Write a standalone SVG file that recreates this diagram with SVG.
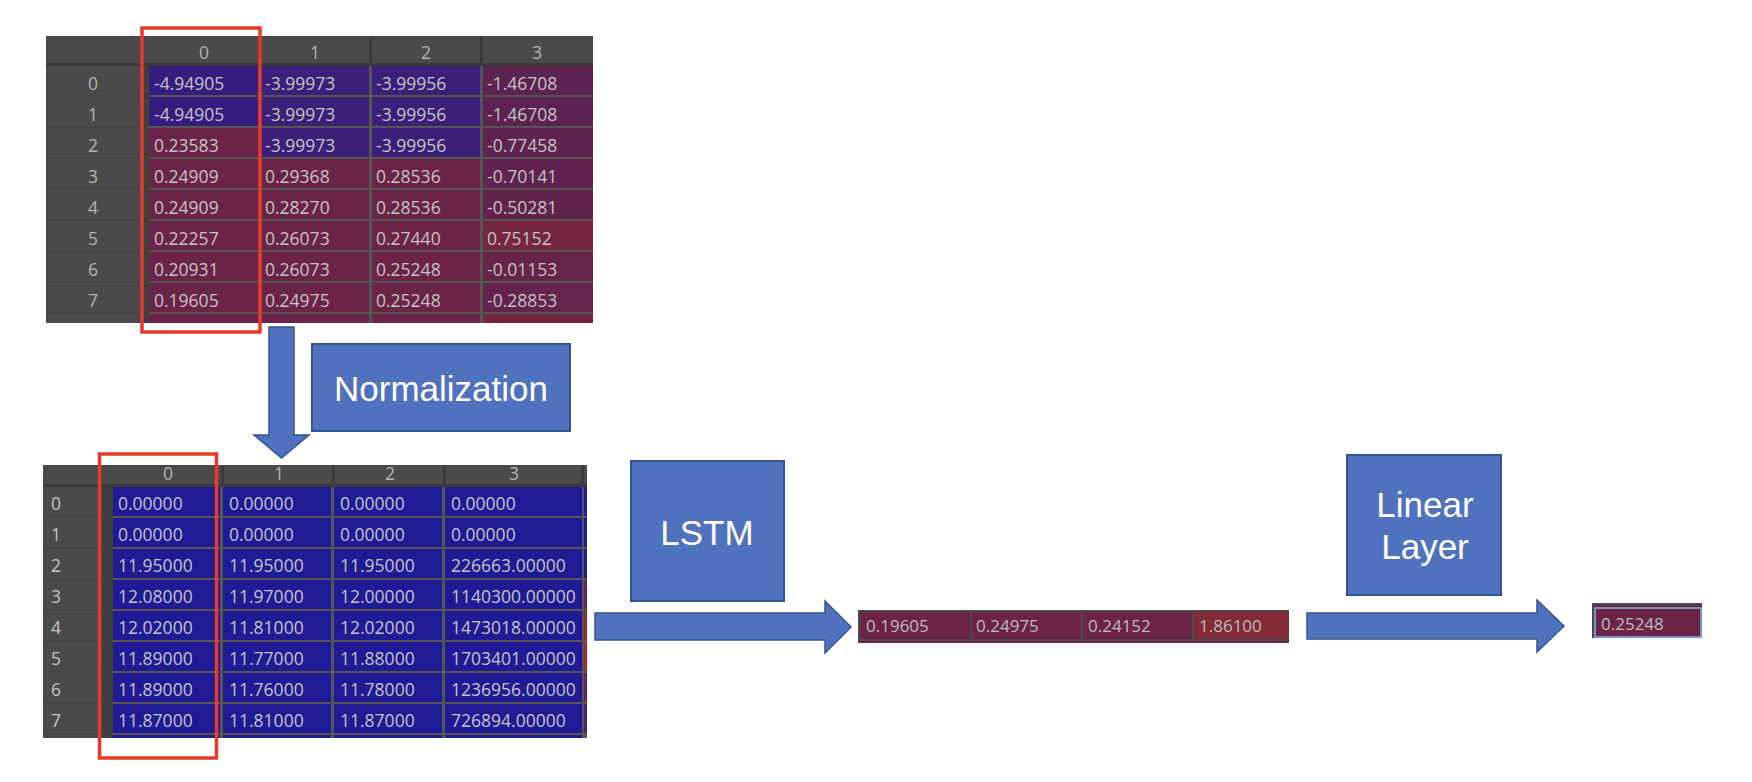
<svg xmlns="http://www.w3.org/2000/svg" width="1752" height="782" viewBox="0 0 1752 782">
<style>
.bg{fill:#ffffff}
.tbl{fill:#4a4a4a}
.hdrline{fill:#3a3a3a}
.grid{fill:#555555}
.cb{fill:#1f1b94}
.c1{fill:#351d80}
.c2{fill:#3c1f78}
.cm{fill:#6b2447}
.t{font-family:"Open Sans","Noto Sans",sans-serif;font-size:17.5px;fill:#c4c4c4}
.th{font-family:"Open Sans","Noto Sans",sans-serif;font-size:17.5px;fill:#b4b4b4;text-anchor:middle}
.to{font-family:"Open Sans","Noto Sans",sans-serif;font-size:17px;fill:#bdbdbd}
.red{fill:none;stroke:#e83a2b;stroke-width:3.5}
.box{fill:#4f71be;stroke:#35548f;stroke-width:2}
.lbl{font-family:"Liberation Sans",Arial,sans-serif;font-size:35px;fill:#ffffff;text-anchor:middle}
.arrow{fill:#4f71be;stroke:#35548f;stroke-width:1.5}
</style>
<rect class="bg" x="0" y="0" width="1752" height="782"/>

<g id="input-table">
<rect class="tbl" x="46" y="36" width="547" height="287"/>
<rect class="hdrline" x="46" y="63" width="547" height="3"/>
<rect class="hdrline" x="258" y="36" width="3" height="28"/>
<rect class="hdrline" x="369" y="36" width="3" height="28"/>
<rect class="hdrline" x="480" y="36" width="3" height="28"/>
<rect fill="#404040" x="144" y="66" width="5" height="257"/>
<g fill="#444444">
<rect x="46" y="95" width="98" height="2"/><rect x="46" y="126" width="98" height="2"/><rect x="46" y="157" width="98" height="2"/><rect x="46" y="188" width="98" height="2"/><rect x="46" y="219" width="98" height="2"/><rect x="46" y="250" width="98" height="2"/><rect x="46" y="281" width="98" height="2"/><rect x="46" y="312" width="98" height="2"/>
</g>
<rect class="grid" x="149" y="66" width="444" height="257"/>
<!-- row 0 -->
<rect class="c1" x="149" y="66" width="109" height="29"/><rect class="c2" x="261" y="66" width="108" height="29"/><rect class="c2" x="372" y="66" width="108" height="29"/><rect fill="#5c2352" x="483" y="66" width="110" height="29"/>
<!-- row 1 -->
<rect class="c1" x="149" y="97" width="109" height="29"/><rect class="c2" x="261" y="97" width="108" height="29"/><rect class="c2" x="372" y="97" width="108" height="29"/><rect fill="#5c2352" x="483" y="97" width="110" height="29"/>
<!-- row 2 -->
<rect class="cm" x="149" y="128" width="109" height="29"/><rect class="c2" x="261" y="128" width="108" height="29"/><rect class="c2" x="372" y="128" width="108" height="29"/><rect fill="#5f2350" x="483" y="128" width="110" height="29"/>
<!-- row 3 -->
<rect class="cm" x="149" y="159" width="109" height="29"/><rect class="cm" x="261" y="159" width="108" height="29"/><rect class="cm" x="372" y="159" width="108" height="29"/><rect fill="#602350" x="483" y="159" width="110" height="29"/>
<!-- row 4 -->
<rect class="cm" x="149" y="190" width="109" height="29"/><rect class="cm" x="261" y="190" width="108" height="29"/><rect class="cm" x="372" y="190" width="108" height="29"/><rect fill="#62234b" x="483" y="190" width="110" height="29"/>
<!-- row 5 -->
<rect class="cm" x="149" y="221" width="109" height="29"/><rect class="cm" x="261" y="221" width="108" height="29"/><rect class="cm" x="372" y="221" width="108" height="29"/><rect fill="#772640" x="483" y="221" width="110" height="29"/>
<!-- row 6 -->
<rect class="cm" x="149" y="252" width="109" height="29"/><rect class="cm" x="261" y="252" width="108" height="29"/><rect class="cm" x="372" y="252" width="108" height="29"/><rect fill="#672348" x="483" y="252" width="110" height="29"/>
<!-- row 7 -->
<rect class="cm" x="149" y="283" width="109" height="29"/><rect class="cm" x="261" y="283" width="108" height="29"/><rect class="cm" x="372" y="283" width="108" height="29"/><rect fill="#63234c" x="483" y="283" width="110" height="29"/>
<!-- partial row -->
<rect class="cm" x="149" y="314" width="109" height="9"/><rect class="cm" x="261" y="314" width="108" height="9"/><rect class="cm" x="372" y="314" width="108" height="9"/><rect fill="#732542" x="483" y="314" width="110" height="9"/>
<text class="th" x="204" y="59">0</text><text class="th" x="315" y="59">1</text><text class="th" x="426" y="59">2</text><text class="th" x="537" y="59">3</text>
<text class="th" x="93" y="89.5">0</text><text class="th" x="93" y="120.5">1</text><text class="th" x="93" y="151.5">2</text><text class="th" x="93" y="182.5">3</text><text class="th" x="93" y="213.5">4</text><text class="th" x="93" y="244.5">5</text><text class="th" x="93" y="275.5">6</text><text class="th" x="93" y="306.5">7</text>
<text class="t" x="154" y="89.5">-4.94905</text><text class="t" x="265" y="89.5">-3.99973</text><text class="t" x="376" y="89.5">-3.99956</text><text class="t" x="487" y="89.5">-1.46708</text>
<text class="t" x="154" y="120.5">-4.94905</text><text class="t" x="265" y="120.5">-3.99973</text><text class="t" x="376" y="120.5">-3.99956</text><text class="t" x="487" y="120.5">-1.46708</text>
<text class="t" x="154" y="151.5">0.23583</text><text class="t" x="265" y="151.5">-3.99973</text><text class="t" x="376" y="151.5">-3.99956</text><text class="t" x="487" y="151.5">-0.77458</text>
<text class="t" x="154" y="182.5">0.24909</text><text class="t" x="265" y="182.5">0.29368</text><text class="t" x="376" y="182.5">0.28536</text><text class="t" x="487" y="182.5">-0.70141</text>
<text class="t" x="154" y="213.5">0.24909</text><text class="t" x="265" y="213.5">0.28270</text><text class="t" x="376" y="213.5">0.28536</text><text class="t" x="487" y="213.5">-0.50281</text>
<text class="t" x="154" y="244.5">0.22257</text><text class="t" x="265" y="244.5">0.26073</text><text class="t" x="376" y="244.5">0.27440</text><text class="t" x="487" y="244.5">0.75152</text>
<text class="t" x="154" y="275.5">0.20931</text><text class="t" x="265" y="275.5">0.26073</text><text class="t" x="376" y="275.5">0.25248</text><text class="t" x="487" y="275.5">-0.01153</text>
<text class="t" x="154" y="306.5">0.19605</text><text class="t" x="265" y="306.5">0.24975</text><text class="t" x="376" y="306.5">0.25248</text><text class="t" x="487" y="306.5">-0.28853</text>
<rect class="red" x="142" y="28" width="118" height="304"/>
</g>

<g id="normalized-table">
<rect class="tbl" x="43" y="465" width="544" height="273"/>
<rect class="hdrline" x="43" y="484" width="544" height="3"/>
<rect class="hdrline" x="221" y="465" width="3" height="20"/>
<rect class="hdrline" x="332" y="465" width="3" height="20"/>
<rect class="hdrline" x="443" y="465" width="3" height="20"/>
<rect class="hdrline" x="581" y="465" width="3" height="20"/>
<g fill="#444444">
<rect x="43" y="516" width="59" height="2"/><rect x="43" y="547" width="59" height="2"/><rect x="43" y="578" width="59" height="2"/><rect x="43" y="609" width="59" height="2"/><rect x="43" y="640" width="59" height="2"/><rect x="43" y="671" width="59" height="2"/><rect x="43" y="702" width="59" height="2"/><rect x="43" y="733" width="59" height="2"/>
</g>
<rect fill="#3e3e3e" x="102" y="487" width="11" height="251"/>
<rect class="grid" x="113" y="487" width="474" height="251"/>
<g class="cb">
<rect x="113" y="487" width="107" height="29"/><rect x="223" y="487" width="108" height="29"/><rect x="334" y="487" width="108" height="29"/><rect x="445" y="487" width="137" height="29"/>
<rect x="113" y="518" width="107" height="29"/><rect x="223" y="518" width="108" height="29"/><rect x="334" y="518" width="108" height="29"/><rect x="445" y="518" width="137" height="29"/>
<rect x="113" y="549" width="107" height="29"/><rect x="223" y="549" width="108" height="29"/><rect x="334" y="549" width="108" height="29"/><rect x="445" y="549" width="137" height="29"/>
<rect x="113" y="580" width="107" height="29"/><rect x="223" y="580" width="108" height="29"/><rect x="334" y="580" width="108" height="29"/><rect x="445" y="580" width="137" height="29"/>
<rect x="113" y="611" width="107" height="29"/><rect x="223" y="611" width="108" height="29"/><rect x="334" y="611" width="108" height="29"/><rect x="445" y="611" width="137" height="29"/>
<rect x="113" y="642" width="107" height="29"/><rect x="223" y="642" width="108" height="29"/><rect x="334" y="642" width="108" height="29"/><rect x="445" y="642" width="137" height="29"/>
<rect x="113" y="673" width="107" height="29"/><rect x="223" y="673" width="108" height="29"/><rect x="334" y="673" width="108" height="29"/><rect x="445" y="673" width="137" height="29"/>
<rect x="113" y="704" width="107" height="29"/><rect x="223" y="704" width="108" height="29"/><rect x="334" y="704" width="108" height="29"/><rect x="445" y="704" width="137" height="29"/>
<rect x="113" y="735" width="107" height="3"/><rect x="223" y="735" width="108" height="3"/><rect x="334" y="735" width="108" height="3"/><rect x="445" y="735" width="137" height="3"/>
<rect x="584" y="487" width="3" height="29"/><rect x="584" y="518" width="3" height="29"/><rect x="584" y="549" width="3" height="29"/>
</g>
<rect fill="#6a2350" x="584" y="580" width="3" height="29"/>
<rect fill="#952a2e" x="584" y="611" width="3" height="29"/>
<rect fill="#a3282a" x="584" y="642" width="3" height="29"/>
<rect fill="#6a2352" x="584" y="673" width="3" height="29"/>
<rect fill="#4d2075" x="584" y="704" width="3" height="29"/>
<text class="th" x="168" y="480">0</text><text class="th" x="279" y="480">1</text><text class="th" x="390" y="480">2</text><text class="th" x="514" y="480">3</text>
<text class="t" x="51" y="510">0</text><text class="t" x="51" y="541">1</text><text class="t" x="51" y="572">2</text><text class="t" x="51" y="603">3</text><text class="t" x="51" y="634">4</text><text class="t" x="51" y="665">5</text><text class="t" x="51" y="696">6</text><text class="t" x="51" y="727">7</text>
<text class="t" x="118" y="510">0.00000</text><text class="t" x="229" y="510">0.00000</text><text class="t" x="340" y="510">0.00000</text><text class="t" x="451" y="510">0.00000</text>
<text class="t" x="118" y="541">0.00000</text><text class="t" x="229" y="541">0.00000</text><text class="t" x="340" y="541">0.00000</text><text class="t" x="451" y="541">0.00000</text>
<text class="t" x="118" y="572">11.95000</text><text class="t" x="229" y="572">11.95000</text><text class="t" x="340" y="572">11.95000</text><text class="t" x="451" y="572">226663.00000</text>
<text class="t" x="118" y="603">12.08000</text><text class="t" x="229" y="603">11.97000</text><text class="t" x="340" y="603">12.00000</text><text class="t" x="451" y="603">1140300.00000</text>
<text class="t" x="118" y="634">12.02000</text><text class="t" x="229" y="634">11.81000</text><text class="t" x="340" y="634">12.02000</text><text class="t" x="451" y="634">1473018.00000</text>
<text class="t" x="118" y="665">11.89000</text><text class="t" x="229" y="665">11.77000</text><text class="t" x="340" y="665">11.88000</text><text class="t" x="451" y="665">1703401.00000</text>
<text class="t" x="118" y="696">11.89000</text><text class="t" x="229" y="696">11.76000</text><text class="t" x="340" y="696">11.78000</text><text class="t" x="451" y="696">1236956.00000</text>
<text class="t" x="118" y="727">11.87000</text><text class="t" x="229" y="727">11.81000</text><text class="t" x="340" y="727">11.87000</text><text class="t" x="451" y="727">726894.00000</text>
<rect class="red" x="99.5" y="454" width="117" height="304"/>
</g>

<g id="normalization">
<rect class="box" x="312" y="344" width="258" height="87"/>
<text class="lbl" x="441" y="401">Normalization</text>
</g>

<g id="lstm">
<rect class="box" x="631" y="461" width="153" height="140"/>
<text class="lbl" x="707" y="545">LSTM</text>
</g>

<g id="lstm-output">
<rect fill="#4a4a4a" x="858" y="610" width="431" height="33"/>
<rect class="cm" x="860" y="612" width="110" height="27"/>
<rect class="cm" x="972" y="612" width="109" height="27"/>
<rect class="cm" x="1083" y="612" width="109" height="27"/>
<rect fill="#822a36" x="1194" y="612" width="95" height="27"/>
<rect class="cm" x="860" y="641" width="429" height="2"/>
<text class="to" x="866" y="632">0.19605</text>
<text class="to" x="976" y="632">0.24975</text>
<text class="to" x="1088" y="632">0.24152</text>
<text class="to" x="1199" y="632">1.86100</text>
</g>

<g id="linear-layer">
<rect class="box" x="1347" y="455" width="154" height="140"/>
<text class="lbl" x="1425" y="517">Linear</text>
<text class="lbl" x="1425" y="559">Layer</text>
</g>

<g id="final-output">
<rect fill="#4a4a4a" x="1592" y="603" width="110" height="35"/>
<rect class="cm" x="1594" y="605" width="108" height="33"/>
<rect fill="none" stroke="#7cb6e8" stroke-width="1.5" x="1595" y="608" width="106" height="29"/>
<text class="to" x="1601" y="630">0.25248</text>
</g>

<g id="connectors">
<polygon class="arrow" points="269,327 294,327 294,435 309,435 281.5,458 254,435 269,435"/>
<polygon class="arrow" points="595,613 825,613 825,601 851,627 825,653 825,640 595,640"/>
<polygon class="arrow" points="1307,613 1537,613 1537,600 1564,626 1537,652 1537,639 1307,639"/>
</g>
</svg>
